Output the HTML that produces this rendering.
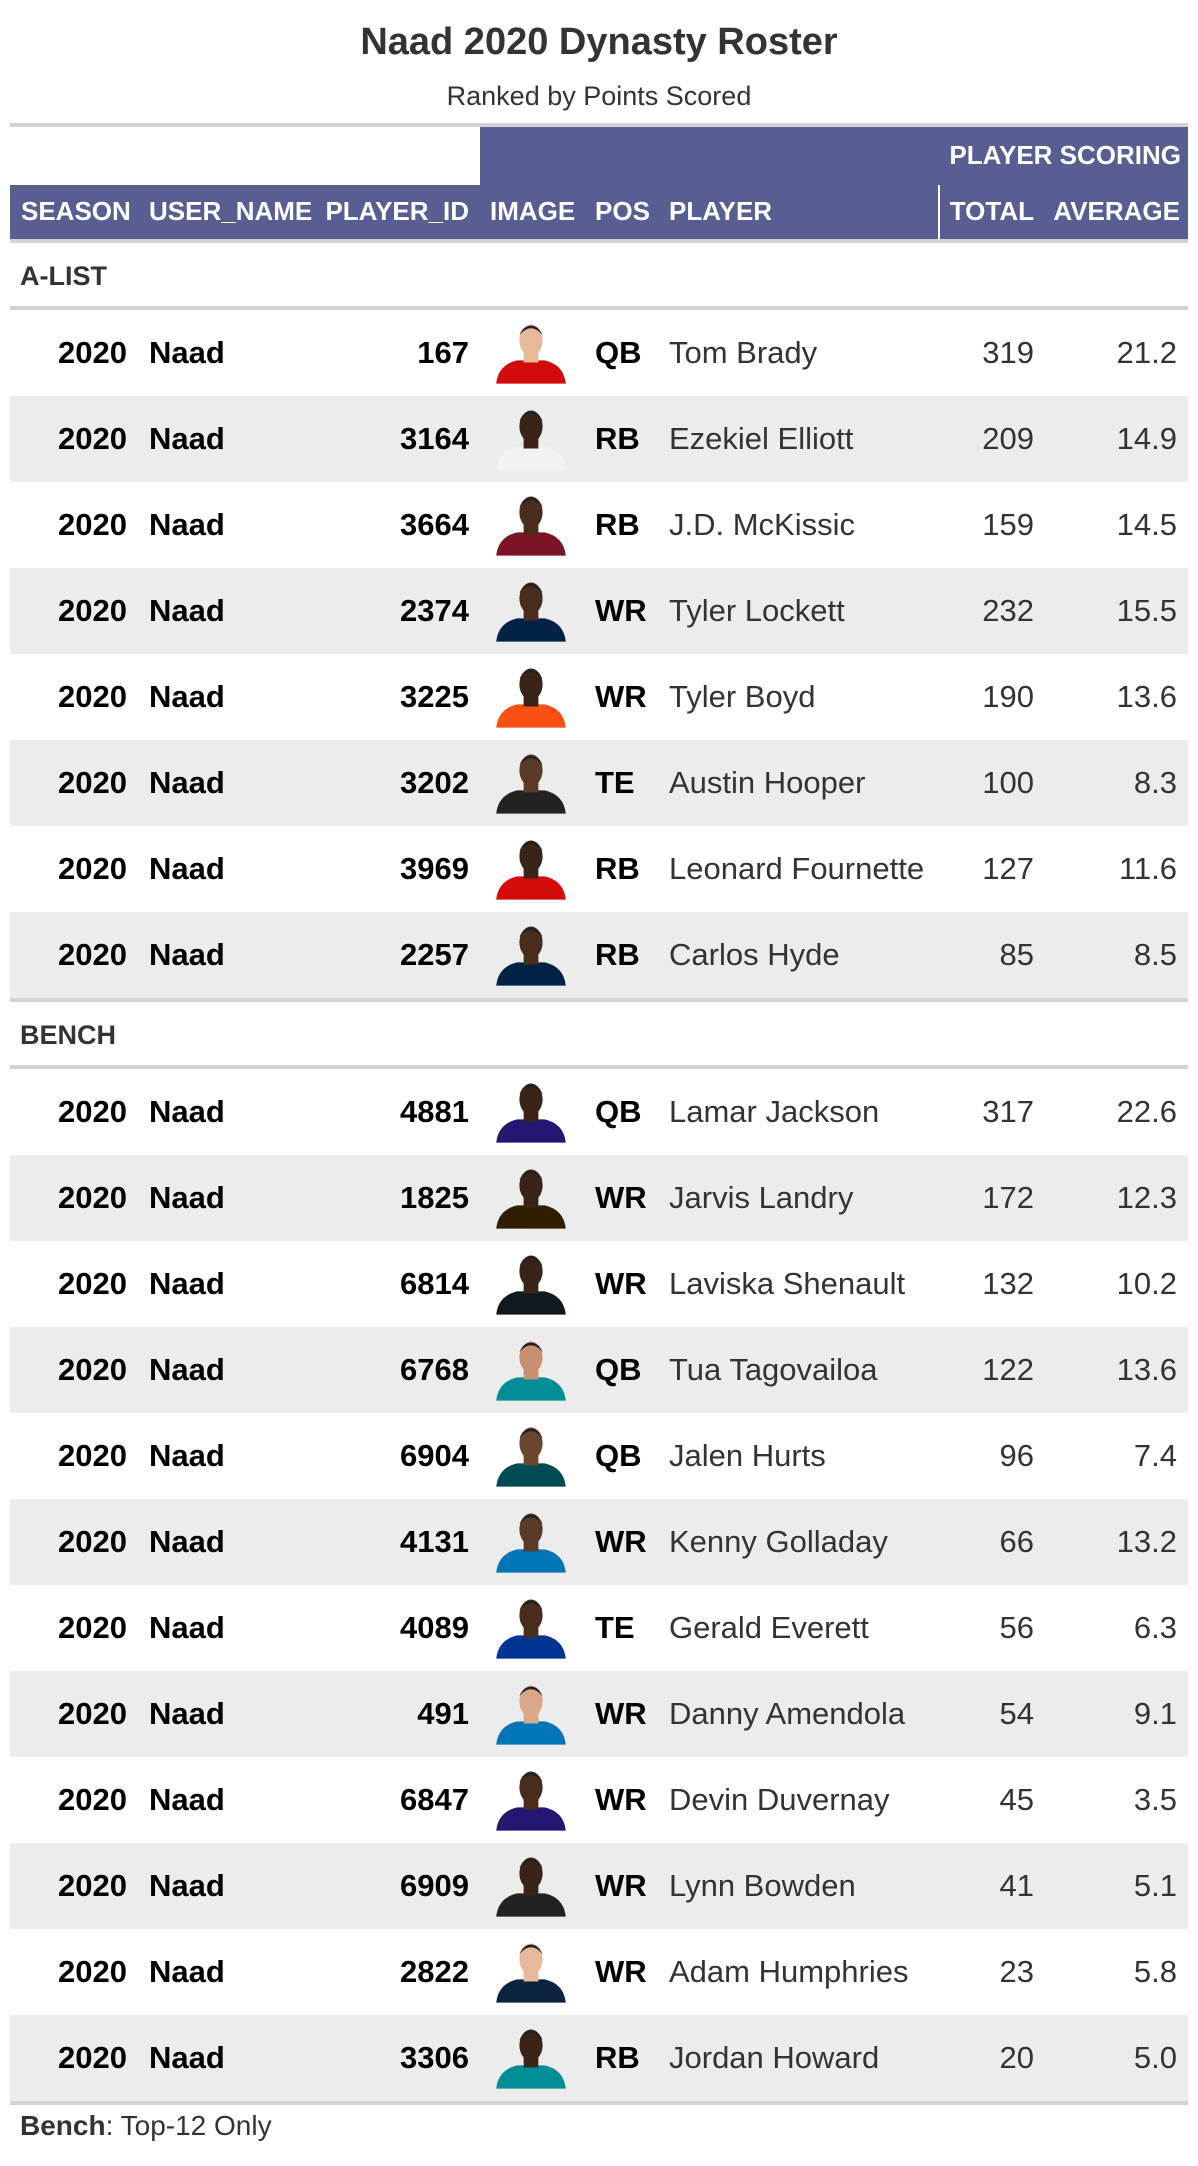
<!DOCTYPE html>
<html><head><meta charset="utf-8">
<style>
body{margin:0;width:1198px;height:2166px;background:#fff;font-family:"Liberation Sans",sans-serif;position:relative;overflow:hidden}
.a{position:absolute;white-space:nowrap}
.hdr{color:#fff;font-weight:bold;font-size:26px}
.cell{font-size:31px;line-height:86px;height:86px}
</style></head>
<body>
<div class="a" style="left:0;width:1198px;text-align:center;top:21px;font-size:38px;font-weight:bold;color:#333">Naad 2020 Dynasty Roster</div>
<div class="a" style="left:0;width:1198px;text-align:center;top:81px;font-size:27px;color:#333">Ranked by Points Scored</div>
<div class="a" style="left:10px;width:1178px;top:123px;height:4px;background:#d3d3d3"></div>
<div class="a" style="left:480px;width:708px;top:127px;height:58px;background:#585d92"></div>
<div class="a hdr" style="right:17px;top:135px;line-height:40px">PLAYER SCORING</div>
<div class="a" style="left:10px;width:1178px;top:185px;height:54px;background:#585d92"></div>
<div class="a" style="left:938px;width:2px;top:185px;height:54px;background:#fff"></div>
<div class="a" style="left:10px;width:1178px;top:239px;height:4px;background:#d3d3d3"></div>
<div id="cols"></div>
<div id="body"></div>
<div class="a" style="left:20px;top:2110px;font-size:28px;color:#333"><b>Bench</b>: Top-12 Only</div>
<script>
const groups=["A-LIST","BENCH"];
const groupSizes=[8,12];
const ids=[167,3164,3664,2374,3225,3202,3969,2257,4881,1825,6814,6768,6904,4131,4089,491,6847,6909,2822,3306];
const positions=["QB","RB","RB","WR","WR","TE","RB","RB","QB","WR","WR","QB","QB","WR","TE","WR","WR","WR","WR","RB"];
const players=["Tom Brady","Ezekiel Elliott","J.D. McKissic","Tyler Lockett","Tyler Boyd","Austin Hooper","Leonard Fournette","Carlos Hyde","Lamar Jackson","Jarvis Landry","Laviska Shenault","Tua Tagovailoa","Jalen Hurts","Kenny Golladay","Gerald Everett","Danny Amendola","Devin Duvernay","Lynn Bowden","Adam Humphries","Jordan Howard"];
const totals=[319,209,159,232,190,100,127,85,317,172,132,122,96,66,56,54,45,41,23,20];
const averages=["21.2","14.9","14.5","15.5","13.6","8.3","11.6","8.5","22.6","12.3","10.2","13.6","7.4","13.2","6.3","9.1","3.5","5.1","5.8","5.0"];
const jerseys=["#d50a0a","#f2f2f2","#7a1426","#002244","#fb4f14","#222","#d50a0a","#002244","#241773","#311d00","#101820","#008e97","#004c54","#0076b6","#003594","#0076b6","#241773","#222","#0c2340","#008e97"];
const skins=["#e8b89a","#3a2418","#4a2c1c","#4a2c1c","#3a2418","#5a3a28","#3a2418","#4a2c1c","#3a2418","#3a2418","#3a2418","#c89070","#6a4530","#5a3a28","#4a2c1c","#d8a888","#4a2c1c","#3a2418","#e8b89a","#3a2418"];
const cols=document.getElementById('cols');
const hdrs=[["SEASON",21,0],["USER_NAME",149,0],["PLAYER_ID",469,1],["IMAGE",490,0],["POS",595,0],["PLAYER",669,0],["TOTAL",1034,1],["AVERAGE",1180,1]];
hdrs.forEach(h=>{const d=document.createElement('div');


d.className='a hdr';d.textContent=h[0];d.style.top='190px';d.style.lineHeight='42px';
if(h[2]){d.style.right=(1198-h[1])+'px';}else d.style.left=h[1]+'px';cols.appendChild(d);});
const body=document.getElementById('body');
function add(html,name,inter){const t=document.createElement('div');t.innerHTML=html;const e=t.firstChild;


body.appendChild(e);return e;}
let y=243,k=0;
groups.forEach((g,gi)=>{
 add(`<div class="a" style="left:20px;top:${y}px;line-height:66px;font-size:27px;font-weight:bold;color:#333">${g}</div>`,'group-label-'+g.toLowerCase(),'false');
 y+=66;
 add(`<div class="a" style="left:10px;width:1178px;top:${y-3}px;height:4px;background:#d3d3d3"></div>`,'group-rule','false');
 y+=1;
 for(let i=0;i<groupSizes[gi];i++,k++){
  const bg=i%2?'#ececec':'#fff';
  add(`<div class="a" style="left:10px;width:1178px;top:${y}px;height:86px;background:${bg}"></div>`,'row-'+players[k].toLowerCase().replace(/[^a-z]+/g,'-'),'true');
  const cells=[[`2020`,127,1,'bold','#000'],['Naad',149,0,'bold','#000'],[ids[k],469,1,'bold','#000'],[positions[k],595,0,'bold','#000'],[players[k],669,0,'normal','#333'],[totals[k],1034,1,'normal','#333'],[averages[k],1177,1,'normal','#333']];
  const names=['season','user-name','player-id','pos','player-name','total','average'];
  cells.forEach((c,ci)=>{
   const pos=c[2]?`right:${1198-c[1]}px`:`left:${c[1]}px`;
   add(`<div class="a cell" style="${pos};top:${y}px;font-weight:${c[3]};color:${c[4]}">${c[0]}</div>`,names[ci]+'-cell','false');
  });
  add(`<svg class="a" style="left:492px;top:${y+12}px" width="78" height="62" viewBox="0 0 74 58"><path d="M4 58 Q6 40 24 36 L50 36 Q68 40 70 58Z" fill="${jerseys[k]}"/><rect x="30" y="28" width="14" height="10" fill="${skins[k]}"/><ellipse cx="37" cy="17" rx="11" ry="15" fill="${skins[k]}"/><path d="M26 12 Q37 -1 48 12 Q44 3 37 3 Q30 3 26 12Z" fill="#222"/></svg>`,'player-headshot','false');
  y+=86;
 }
 y+=2;
 add(`<div class="a" style="left:10px;width:1178px;top:${y-2}px;height:4px;background:#d3d3d3"></div>`,'group-bottom-rule','false');
 y+=2;
});
</script>
</body></html>
